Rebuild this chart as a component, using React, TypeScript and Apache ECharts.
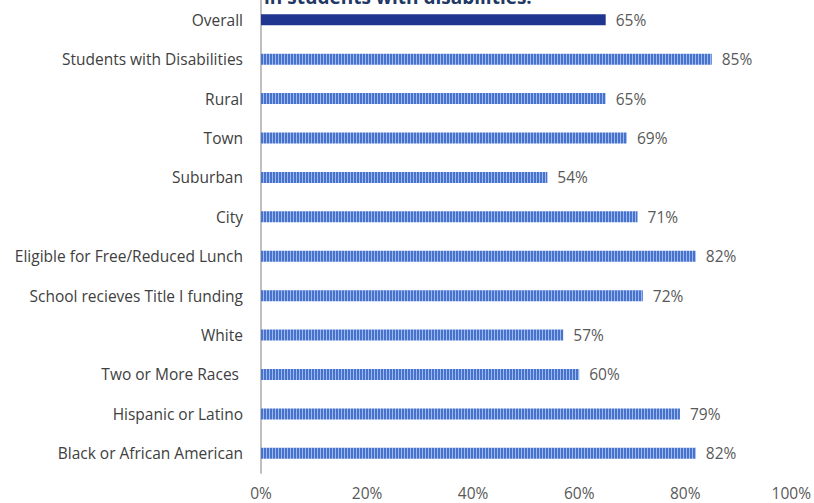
import React, { useEffect, useRef } from "react";
import * as echarts from "echarts";

const categories = [
  "Overall",
  "Students with Disabilities",
  "Rural",
  "Town",
  "Suburban",
  "City",
  "Eligible for Free/Reduced Lunch",
  "School recieves Title I funding",
  "White",
  "Two or More Races ",
  "Hispanic or Latino",
  "Black or African American",
];
const values = [65, 85, 65, 69, 54, 71, 82, 72, 57, 60, 79, 82];
const xTicks = [0, 20, 40, 60, 80, 100];
const titleText = "in students with disabilities.";

function makePattern(): HTMLCanvasElement {
  const c = document.createElement("canvas");
  c.width = 3;
  c.height = 12;
  const ctx = c.getContext("2d")!;
  ctx.fillStyle = "#4873CC";
  ctx.fillRect(0, 0, 3, 12);
  ctx.fillStyle = "#9DB8EC";
  ctx.fillRect(2, 0, 1, 12);
  return c;
}

export default function App() {
  const ref = useRef<HTMLDivElement>(null);
  useEffect(() => {
    if (!ref.current) return;
    const chart = echarts.init(ref.current, undefined, { renderer: "svg" });
    const pattern = makePattern();
    const rev = categories.slice().reverse();
    const revVals = values.slice().reverse();
    const data = revVals.map((v, i) => {
      const isOverall = rev[i] === "Overall";
      return {
        value: v,
        itemStyle: isOverall
          ? { color: "#1F3590" }
          : { color: { image: pattern, repeat: "repeat" } as any },
      };
    });
    chart.setOption({
      animation: false,
      grid: { left: 261, right: 21, top: 0, bottom: 30, containLabel: false },
      graphic: [
        {
          type: "text",
          left: 264,
          top: -13,
          style: {
            text: titleText,
            fill: "#1F3864",
            font: "bold 19px 'Open Sans', sans-serif",
          },
        },
      ],
      xAxis: {
        type: "value",
        min: xTicks[0],
        max: xTicks[xTicks.length - 1],
        interval: 20,
        axisLine: { show: false },
        axisTick: { show: false },
        splitLine: { show: false },
        axisLabel: {
          formatter: "{value}%",
          color: "#595959",
          fontSize: 15.5,
          fontFamily: "'Open Sans', sans-serif",
          margin: 12,
        },
      },
      yAxis: {
        type: "category",
        data: rev,
        axisLine: { show: true, lineStyle: { color: "#BFBFBF", width: 2 } },
        axisTick: { show: false },
        axisLabel: {
          color: "#404040",
          fontSize: 15.5,
          fontFamily: "'Open Sans', sans-serif",
          margin: 18,
        },
      },
      series: [
        {
          type: "bar",
          data,
          barWidth: 11,
          label: {
            show: true,
            position: "right",
            distance: 10,
            formatter: "{c}%",
            color: "#595959",
            fontSize: 15.5,
            fontFamily: "'Open Sans', sans-serif",
          },
        },
      ],
    });
    return () => chart.dispose();
  }, []);
  return <div ref={ref} style={{ width: 814, height: 503, position: "absolute", left: 0, top: 0 }} />;
}
